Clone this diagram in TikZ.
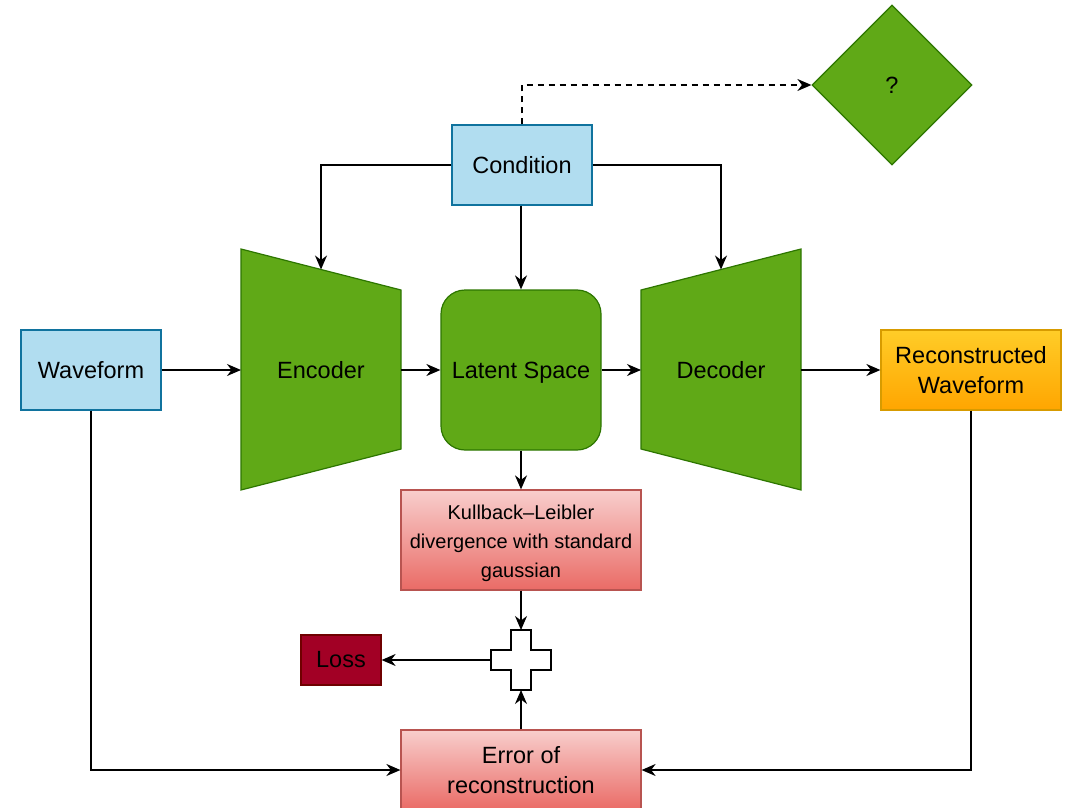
\documentclass[tikz,border=0pt]{standalone}
\usepackage{fontspec}
\setmainfont{Liberation Sans}
\usetikzlibrary{arrows.meta,shapes.geometric}
\definecolor{blueF}{HTML}{B1DDF0}
\definecolor{blueS}{HTML}{10739E}
\definecolor{greenF}{HTML}{60A917}
\definecolor{greenS}{HTML}{2D7600}
\definecolor{redT}{HTML}{F8CECC}
\definecolor{redB}{HTML}{EA6B66}
\definecolor{redS}{HTML}{B85450}
\definecolor{orT}{HTML}{FFCD28}
\definecolor{orB}{HTML}{FFA500}
\definecolor{orS}{HTML}{D79B00}
\definecolor{lossF}{HTML}{A20025}
\definecolor{lossS}{HTML}{6F0000}
\tikzset{
  big/.style={font=\fontsize{23.5}{30}\selectfont},
  small/.style={font=\fontsize{20}{29}\selectfont},
  inbox/.style={draw=blueS, fill=blueF, line width=1.2pt, minimum width=140pt, minimum height=80pt, inner sep=0pt, big, align=center},
  redbox/.style={draw=redS, top color=redT, bottom color=redB, line width=1.2pt, minimum width=240pt, inner sep=0pt, align=center},
  greenshape/.style={draw=greenS, fill=greenF, line width=1.2pt},
  link/.style={line width=1.6pt, -{Stealth[length=14pt,width=12pt,inset=4.5pt]}},
}
\begin{document}
\begin{tikzpicture}[x=1pt,y=-1pt]
\useasboundingbox (0,0) rectangle (1066,808);
\clip (0,0) rectangle (1066,808);

% input / output boxes
\node[inbox] (cond) at (522,165) {Condition};
\node[inbox] (wave) at (91,370) {Waveform};
\node[draw=orS, top color=orT, bottom color=orB, line width=1.2pt, minimum width=180pt, minimum height=80pt, inner sep=0pt, big, align=center] (recon) at (971,370) {Reconstructed\\Waveform};

% encoder and decoder trapezoids
\draw[greenshape] (241,249) -- (401,290) -- (401,449) -- (241,490) -- cycle;
\node[big] (enc) at (321,370) {Encoder};
\draw[greenshape] (641,290) -- (801,249) -- (801,490) -- (641,449) -- cycle;
\node[big] (dec) at (721,370) {Decoder};
\coordinate (encL) at (241,370);
\coordinate (encR) at (401,370);
\coordinate (encT) at (321,269.5);
\coordinate (decL) at (641,370);
\coordinate (decR) at (801,370);
\coordinate (decT) at (721,269.5);

% latent space
\node[greenshape, rounded corners=24pt, minimum width=160pt, minimum height=160pt, inner sep=0pt, text depth=0pt, big] (lat) at (521,370) {Latent Space};

% losses
\node[redbox, minimum height=100pt] (kl) at (521,540) {};
\node[small, align=center] (kltext) at (521,543) {Kullback--Leibler\\divergence with standard\\gaussian};
\node[redbox, minimum height=80pt, big] (err) at (521,770) {Error of\\reconstruction};
\draw[line width=1.5pt, fill=white] (511,630) -- (531,630) -- (531,650) -- (551,650) -- (551,670) -- (531,670) -- (531,690) -- (511,690) -- (511,670) -- (491,670) -- (491,650) -- (511,650) -- cycle;
\coordinate (plus) at (521,660);
\coordinate (plusT) at (521,630);
\coordinate (plusB) at (521,690);
\coordinate (plusL) at (491,660);
\node[draw=lossS, fill=lossF, line width=1.2pt, minimum width=80pt, minimum height=50pt, inner sep=0pt, big, text=black] (loss) at (341,660) {Loss};

% unknown target
\node[diamond, draw=greenS, fill=greenF, line width=1.2pt, minimum width=160pt, minimum height=160pt, inner sep=0pt, big] (q) at (892,85) {?};

% connectors
\draw[link] (cond.west) -| (encT);
\draw[link] (cond.east) -| (decT);
\draw[link] (cond.south -| lat.north) -- (lat.north);
\draw[link, dash pattern=on 6pt off 5pt] (cond.north) |- (q.west);
\draw[link] (wave.east) -- (encL);
\draw[link] (encR) -- (lat.west);
\draw[link] (lat.east) -- (decL);
\draw[link] (decR) -- (recon.west);
\draw[link] (lat.south) -- (kl.north);
\draw[link] (kl.south) -- (plusT);
\draw[link] (err.north) -- (plusB);
\draw[link] (plusL) -- (loss.east);
\draw[link] (wave.south) |- (err.west);
\draw[link] (recon.south) |- (err.east);
\end{tikzpicture}
\end{document}
